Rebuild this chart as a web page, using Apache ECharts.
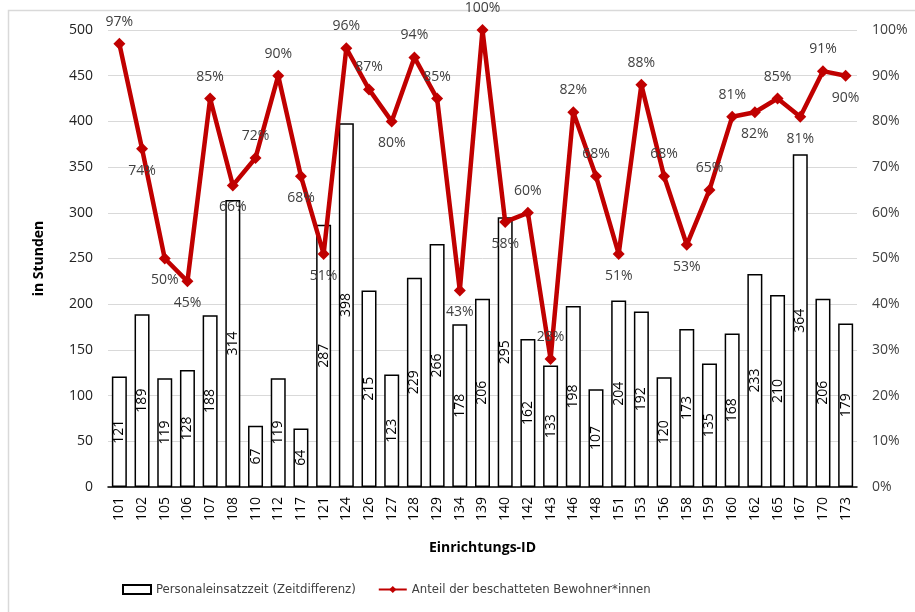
<!DOCTYPE html>
<html>
<head>
<meta charset="utf-8">
<script src="https://cdn.jsdelivr.net/npm/echarts@6/dist/echarts.min.js"></script>
<style>
  html, body { margin: 0; padding: 0; background: #fff; }
  #main { width: 915px; height: 612px; }
</style>
</head>
<body>
<div id="main"></div>
<script>
const categories = ["101", "102", "105", "106", "107", "108", "110", "112", "117", "121", "124", "126", "127", "128", "129", "134", "139", "140", "142", "143", "146", "148", "151", "153", "156", "158", "159", "160", "162", "165", "167", "170", "173"];
const hours = [121, 189, 119, 128, 188, 314, 67, 119, 64, 287, 398, 215, 123, 229, 266, 178, 206, 295, 162, 133, 198, 107, 204, 192, 120, 173, 135, 168, 233, 210, 364, 206, 179];
const share = [97, 74, 50, 45, 85, 66, 72, 90, 68, 51, 96, 87, 80, 94, 85, 43, 100, 58, 60, 28, 82, 68, 51, 88, 68, 53, 65, 81, 82, 85, 81, 91, 90];
const hourTicks = [0, 500, 50];
const shareTicks = [0, 100, 10];

// where Excel put each percent label
const labelSide = ["top", "bottom", "bottom", "bottom", "top", "bottom", "top", "top", "bottom", "bottom", "top", "top", "bottom", "top", "top", "bottom", "top", "bottom", "top", "top", "top", "top", "bottom", "top", "top", "bottom", "top", "top", "bottom", "top", "bottom", "top", "bottom"];

const font = "Open Sans";
const narrow = "'Liberation Sans Narrow', 'DejaVu Sans Condensed', sans-serif";
const myChart = echarts.init(document.getElementById("main"));

const option = {
  animation: false,
  textStyle: { fontFamily: font },
  graphic: [
    {
      type: "rect",
      shape: { x: 8.5, y: 10.5, width: 920, height: 620 },
      style: { fill: "none", stroke: "#d9d9d9", lineWidth: 1.5 },
    },
  ],
  grid: { left: 108, right: 58, top: 30, bottom: 125 },
  legend: {
    bottom: 11,
    left: 117,
    itemGap: 22,
    itemWidth: 28,
    itemHeight: 9,
    textStyle: { fontFamily: narrow, fontSize: 13, color: "#404040" },
    data: [
      { name: "Personaleinsatzzeit (Zeitdifferenz)", icon: "rect" },
      { name: "Anteil der beschatteten Bewohner*innen" },
    ],
  },
  xAxis: {
    type: "category",
    data: categories,
    name: "Einrichtungs-ID",
    nameLocation: "middle",
    nameGap: 54,
    nameTextStyle: { fontFamily: font, fontSize: 14, fontWeight: "bold", color: "#000" },
    axisLine: { lineStyle: { color: "#000", width: 1.5 } },
    axisTick: { show: false },
    axisLabel: { rotate: 90, margin: 10, fontSize: 14, color: "#000", interval: 0 },
  },
  yAxis: [
    {
      type: "value",
      min: hourTicks[0],
      max: hourTicks[1],
      interval: hourTicks[2],
      name: "in Stunden",
      nameLocation: "middle",
      nameGap: 62,
      nameRotate: 90,
      nameTextStyle: { fontFamily: font, fontSize: 14, fontWeight: "bold", color: "#000" },
      axisLine: { show: false },
      axisTick: { show: false },
      axisLabel: { fontSize: 14, color: "#222", margin: 15 },
      splitLine: { lineStyle: { color: "#d9d9d9", width: 1 } },
    },
    {
      type: "value",
      min: shareTicks[0],
      max: shareTicks[1],
      interval: shareTicks[2],
      axisLine: { show: false },
      axisTick: { show: false },
      axisLabel: { fontSize: 14, color: "#404040", margin: 15, formatter: "{value}%" },
      splitLine: { show: false },
    },
  ],
  series: [
    {
      name: "Personaleinsatzzeit (Zeitdifferenz)",
      type: "bar",
      data: hours,
      barWidth: 15,
      itemStyle: { color: "#fff", borderColor: "#000", borderWidth: 1.5 },
      label: {
        show: true,
        position: "inside",
        rotate: 90,
        fontSize: 14,
        color: "#000",
      },
      z: 2,
    },
    {
      name: "Anteil der beschatteten Bewohner*innen",
      type: "line",
      yAxisIndex: 1,
      data: share.map((v, i) => ({
        value: v,
        label: { position: labelSide[i] },
      })),
      symbol: "diamond",
      symbolSize: 12,
      lineStyle: { color: "#c00000", width: 4.5 },
      itemStyle: { color: "#c00000" },
      label: {
        show: true,
        distance: 9,
        fontSize: 14,
        color: "#404040",
        formatter: "{c}%",
      },
      z: 5,
    },
  ],
};

myChart.setOption(option);
</script>
</body>
</html>
